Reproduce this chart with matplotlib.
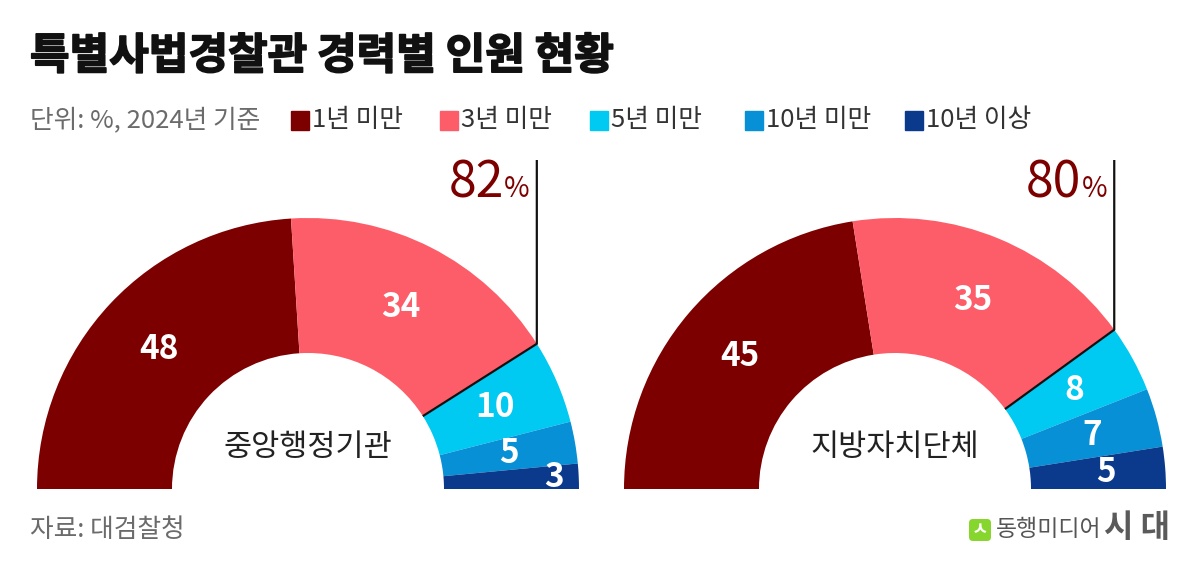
import numpy as np
import matplotlib
matplotlib.use("Agg")
import matplotlib.pyplot as plt
import matplotlib.patheffects as pe
from matplotlib.patches import Wedge, Rectangle, FancyBboxPatch

plt.rcParams['font.family'] = ['Noto Sans CJK KR', 'DejaVu Sans']

# data
title = "특별사법경찰관 경력별 인원 현황"
unit_note = "단위: %, 2024년 기준"
categories = ["1년 미만", "3년 미만", "5년 미만", "10년 미만", "10년 이상"]
colors = ["#7d0000", "#fd5d68", "#00c9f2", "#0790d6", "#0b3a8c"]
groups = ["중앙행정기관", "지방자치단체"]
central = [48, 34, 10, 5, 3]
local = [45, 35, 8, 7, 5]
highlight = [82, 80]
source = "자료: 대검찰청"

W, H = 1200, 568
fig = plt.figure(figsize=(W / 100, H / 100), dpi=100)
ax = fig.add_axes([0, 0, 1, 1])
ax.set_xlim(0, W)
ax.set_ylim(0, H)
ax.axis("off")


def Y(y):
    # image pixel row -> data y
    return H - y


# title and legend row
ax.text(30, Y(56), title, fontsize=31, fontweight="bold", va="center", ha="left", color="#111111",
        path_effects=[pe.withStroke(linewidth=1.2, foreground="#111111")])
ax.text(30, Y(120), unit_note, fontsize=18.5, color="#6b6b6b", va="center", ha="left")
legend_x = [291, 440, 590, 745, 905]
for lx, lab, c in zip(legend_x, categories, colors):
    ax.add_patch(Rectangle((lx, Y(130)), 18, 19, color=c))
    ax.text(lx + 21, Y(120), lab, fontsize=18.5, color="#333333", va="center", ha="left")

outer, inner = 271, 136
centers = [(308, 489), (895, 489)]
label_r = [[204, 204, 204, 204, 246], [204, 204, 204, 204, 212]]
renderer = fig.canvas.get_renderer()

for (cx, cy), vals, name, hl, lr in zip(centers, [central, local], groups, highlight, label_r):
    cum = np.concatenate([[0], np.cumsum(vals)])
    for i, v in enumerate(vals):
        t2 = 180 - cum[i] * 1.8
        t1 = 180 - cum[i + 1] * 1.8
        ax.add_patch(Wedge((cx, Y(cy)), outer, t1, t2, width=outer - inner,
                           facecolor=colors[i], edgecolor="none"))
        mid = np.deg2rad((t1 + t2) / 2)
        ax.text(cx + lr[i] * np.cos(mid), Y(cy) + lr[i] * np.sin(mid), str(v),
                fontsize=24, fontweight="bold", color="white", ha="center", va="center")
    ax.text(cx, Y(cy - 42), name, fontsize=22, color="#222222", ha="center", va="center")

    # boundary line at cumulative highlight share
    a = np.deg2rad(180 - hl * 1.8)
    xi, yi = cx + inner * np.cos(a), Y(cy) + inner * np.sin(a)
    xo, yo = cx + outer * np.cos(a), Y(cy) + outer * np.sin(a)
    ax.plot([xi, xo, xo], [yi, yo, Y(160)], color="#111111", lw=1.6, solid_capstyle="butt")
    pct = ax.text(xo - 7, Y(197), "%", fontsize=20, color="#7d0000", ha="right",
                  va="baseline")
    bb = pct.get_window_extent(renderer=renderer)
    ax.text(bb.x0, Y(197), str(hl), fontsize=36, color="#7d0000", ha="right",
            va="baseline")

# footer
ax.text(30, Y(530), source, fontsize=18.5, color="#6b6b6b", va="center", ha="left")
ax.add_patch(FancyBboxPatch((969, Y(541)), 22, 22, boxstyle="round,pad=0,rounding_size=4",
                            facecolor="#86d62e", edgecolor="none"))
ax.text(980, Y(530), "ㅅ", fontsize=13, color="white", fontweight="bold", ha="center", va="center")
ax.text(996, Y(530), "동행미디어", fontsize=16.5, color="#555555", va="center", ha="left")
ax.text(1104, Y(528), "시 대", fontsize=23, color="#5a5a5a", fontweight="bold", va="center", ha="left")

fig.savefig("out.png", dpi=100, facecolor="white")
